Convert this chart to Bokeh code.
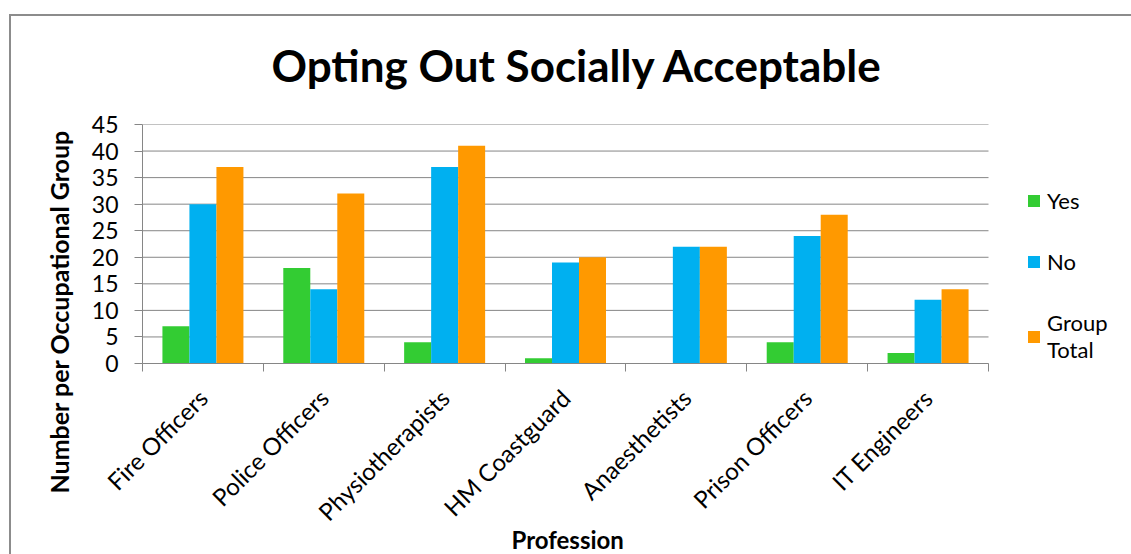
import math

from bokeh.embed import file_html
from bokeh.models import (ColumnDataSource, FixedTicker, Legend, LegendItem,
                          Range1d, Title)
from bokeh.plotting import figure
from bokeh.resources import INLINE
from bokeh.transform import dodge

# Survey responses per occupational group
professions = ["Fire Officers", "Police Officers", "Physiotherapists",
               "HM Coastguard", "Anaesthetists", "Prison Officers", "IT Engineers"]
yes_counts = [7, 18, 4, 1, 0, 4, 2]
no_counts = [30, 14, 37, 19, 22, 24, 12]
group_total = [37, 32, 41, 20, 22, 28, 14]
y_tick_values = [0, 5, 10, 15, 20, 25, 30, 35, 40, 45]

FONT = "Lato"
GREY = "#868686"
GREEN, BLUE, ORANGE = "#33CC33", "#00B0F0", "#FF9900"

W, H = 1131, 554
PLOT_L, PLOT_R, PLOT_T, PLOT_B = 142, 988, 124, 363

n = len(professions)
idx = list(range(n))
src = ColumnDataSource(dict(x=idx, yes=yes_counts, no=no_counts, total=group_total))

# the frame runs to the right edge so the legend can sit beside the bars
px_per_unit = (PLOT_R - PLOT_L) / n
x_end = -0.5 + (W - PLOT_L) / px_per_unit

p = figure(width=W, height=H, output_backend="svg", toolbar_location=None,
           x_range=Range1d(-0.5, x_end),
           y_range=Range1d(0, y_tick_values[-1]),
           min_border_left=PLOT_L, min_border_right=0,
           min_border_top=PLOT_T, min_border_bottom=H - PLOT_B)
p.outline_line_color = None
p.background_fill_color = None
p.border_fill_color = None
# white page with a thin grey chart border
p.styles = {"background": ("linear-gradient(#8c8c8c,#8c8c8c) 9px 14px / 2px 2000px no-repeat, "
                           "linear-gradient(#8c8c8c,#8c8c8c) 9px 14px / 3000px 2px no-repeat, "
                           "white")}

# horizontal gridlines over the category span only
p.ygrid.visible = False
p.xgrid.visible = False
p.segment(x0=[-0.5] * len(y_tick_values), x1=[n - 0.5] * len(y_tick_values),
          y0=y_tick_values, y1=y_tick_values, line_color=GREY, line_width=1)

bw = 0.2234
r_yes = p.vbar(x=dodge("x", -bw), top="yes", width=bw, source=src,
               fill_color=GREEN, line_color=None)
r_no = p.vbar(x=dodge("x", 0), top="no", width=bw, source=src,
              fill_color=BLUE, line_color=None)
r_tot = p.vbar(x=dodge("x", bw), top="total", width=bw, source=src,
               fill_color=ORANGE, line_color=None)

# y axis
ya = p.yaxis[0]
ya.ticker = FixedTicker(ticks=y_tick_values)
ya.axis_line_color = GREY
ya.major_tick_line_color = GREY
ya.major_tick_out = 8
ya.major_tick_in = 0
ya.minor_tick_line_color = None
ya.major_label_text_font = FONT
ya.major_label_text_font_size = "23px"
ya.major_label_text_color = "black"
ya.major_label_standoff = 16

# x axis: names centred under each group, ticks between groups
xa = p.xaxis[0]
xa.bounds = (-0.5, n - 0.5)
xa.ticker = FixedTicker(ticks=idx, minor_ticks=[i - 0.5 for i in range(n + 1)])
xa.major_label_overrides = {i: name for i, name in zip(idx, professions)}
xa.axis_line_color = GREY
xa.major_tick_line_color = None
xa.major_tick_out = 0
xa.minor_tick_line_color = GREY
xa.minor_tick_out = 8
xa.minor_tick_in = 0
xa.major_label_orientation = math.pi / 4
xa.major_label_text_font = FONT
xa.major_label_text_font_size = "24px"
xa.major_label_text_color = "black"
xa.major_label_standoff = 22

# x axis title, centred under the category span
try:
    x_title = Title(text="Profession", align="left", offset=369, vertical_align="top",
                    text_font=FONT, text_font_style="bold", text_font_size="24px",
                    text_color="black", standoff=-29)
    p.add_layout(x_title, "below")
except ValueError:
    xa.axis_label = "Profession"
    xa.axis_label_text_font = FONT
    xa.axis_label_text_font_style = "bold"
    xa.axis_label_text_font_size = "22px"
    xa.axis_label_text_color = "black"
    xa.axis_label_standoff = -18

p.title = Title(text="Opting Out Socially Acceptable", align="left", offset=129,
                text_font=FONT, text_font_style="bold", text_font_size="44px",
                text_color="black", standoff=68)

p.add_layout(Title(text="Number per Occupational Group", align="left", offset=-130,
                   text_font=FONT, text_font_style="bold", text_font_size="25px",
                   text_color="black", standoff=30), "left")

legend = Legend(items=[LegendItem(label="Yes", renderers=[r_yes]),
                       LegendItem(label="No", renderers=[r_no]),
                       LegendItem(label="Group\nTotal", renderers=[r_tot])],
                location=(1026 - PLOT_L, 0), orientation="vertical", ncols=1,
                glyph_width=15, glyph_height=15, label_height=24, spacing=34,
                label_standoff=6, padding=0, margin=0,
                border_line_color=None, background_fill_alpha=0,
                label_text_font=FONT, label_text_font_size="22px",
                label_text_color="black")
p.add_layout(legend)

open("out.html", "w").write(file_html(p, INLINE))
